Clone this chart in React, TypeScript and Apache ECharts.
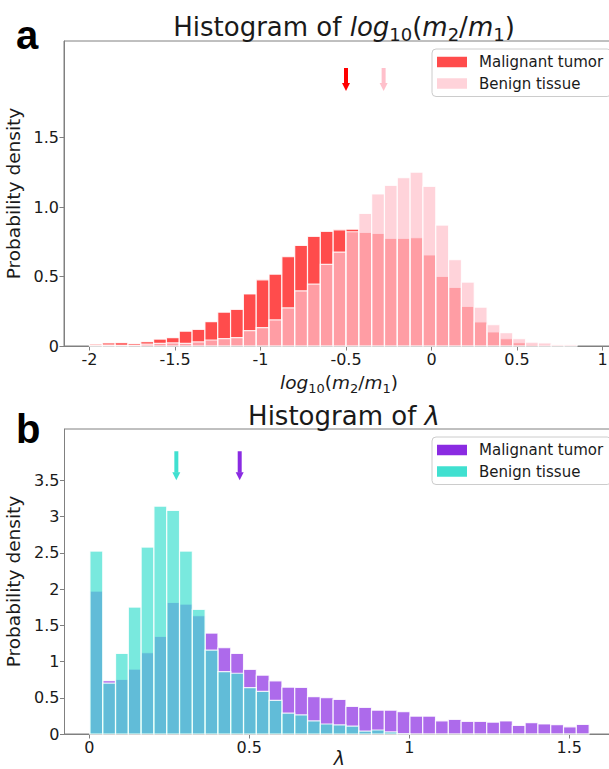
import React, { useEffect, useRef } from "react";
import * as echarts from "echarts";

// ---------- Panel a: log10(m2/m1) ----------
const logBinStart = -2;
const logBinWidth = 0.075;
const logMalignant = [
  0.014, 0.022, 0.024, 0.017, 0.031, 0.05, 0.06, 0.106, 0.12, 0.175,
  0.243, 0.264, 0.375, 0.476, 0.517, 0.642, 0.723, 0.789, 0.825, 0.836,
  0.84, 0.817, 0.81, 0.775, 0.775, 0.78, 0.655, 0.5, 0.421, 0.284,
  0.173, 0.101, 0.052, 0.024, 0.012, 0.008, 0.005, 0.003,
];
const logBenign = [
  0.005, 0.007, 0.005, 0.005, 0.014, 0.019, 0.022, 0.019, 0.029, 0.043,
  0.053, 0.06, 0.11, 0.132, 0.188, 0.274, 0.397, 0.445, 0.587, 0.676,
  0.822, 0.954, 1.094, 1.156, 1.212, 1.25, 1.149, 0.87, 0.622, 0.46,
  0.279, 0.153, 0.096, 0.052, 0.027, 0.022, 0.01, 0.01,
];
const logArrowX = [-0.5, -0.28]; // malignant, benign
const logArrowTail = 2.0;
const logArrowTip = 1.835;
const logTicksX = [-2, -1.5, -1, -0.5, 0, 0.5, 1];
const logTicksY = [0, 0.5, 1.0, 1.5];

// ---------- Panel b: lambda ----------
const lambdaBinStart = 0.002;
const lambdaBinWidth = 0.04;
const lambdaMalignant = [
  1.971, 0.735, 0.754, 0.896, 1.121, 1.347, 1.815, 1.792, 1.631, 1.392,
  1.19, 1.112, 0.892, 0.811, 0.733, 0.645, 0.643, 0.515, 0.503, 0.476,
  0.38, 0.368, 0.328, 0.328, 0.31, 0.246, 0.246, 0.181, 0.202, 0.175,
  0.175, 0.163, 0.181, 0.117, 0.156, 0.138, 0.129, 0.099, 0.131,
];
const lambdaBenign = [
  2.523, 0.703, 1.112, 1.751, 2.578, 3.143, 3.084, 2.523, 1.719, 1.158,
  0.859, 0.838, 0.639, 0.588, 0.465, 0.288, 0.265, 0.182, 0.138, 0.126,
  0.11, 0.041, 0.055, 0.028, 0.004, 0, 0, 0, 0, 0,
  0, 0, 0, 0, 0, 0, 0, 0, 0,
];
const lambdaArrowX = [0.47, 0.272]; // malignant, benign
const lambdaArrowTail = 3.9;
const lambdaArrowTip = 3.5;
const lambdaTicksX = [0, 0.5, 1, 1.5];
const lambdaTicksY = [0, 0.5, 1, 1.5, 2, 2.5, 3, 3.5];

const FONT = "DejaVu Sans";
const AXIS_COLOR = "#808080";
const TEXT_COLOR = "#1a1a1a";

function histSeries(
  name: string,
  idx: number,
  start: number,
  width: number,
  values: number[],
  fill: string,
  z: number
) {
  const data = values.map((v, i) => [start + i * width, start + (i + 1) * width, v]);
  return {
    type: "custom",
    name,
    xAxisIndex: idx,
    yAxisIndex: idx,
    z,
    silent: true,
    itemStyle: { color: fill },
    encode: { x: [0, 1], y: 2 },
    data,
    renderItem: (params: any, api: any) => {
      const p0 = api.coord([api.value(0), api.value(2)]);
      const p1 = api.coord([api.value(1), 0]);
      return {
        type: "rect",
        shape: { x: p0[0], y: p0[1], width: p1[0] - p0[0], height: p1[1] - p0[1] },
        style: { fill, stroke: "rgba(255,255,255,0.85)", lineWidth: 1.2 },
      };
    },
  };
}

function arrowSeries(idx: number, xs: number[], tail: number, tip: number, colors: string[]) {
  return {
    type: "custom",
    xAxisIndex: idx,
    yAxisIndex: idx,
    z: 10,
    silent: true,
    encode: { x: 0, y: [1, 2] },
    data: xs.map((x) => [x, tail, tip]),
    renderItem: (params: any, api: any) => {
      const t = api.coord([api.value(0), api.value(1)]);
      const h = api.coord([api.value(0), api.value(2)]);
      const c = colors[params.dataIndex];
      const headLen = 8;
      const shaftW = 4;
      const headW = 8;
      return {
        type: "group",
        children: [
          {
            type: "rect",
            shape: { x: t[0] - shaftW / 2, y: t[1], width: shaftW, height: h[1] - t[1] - headLen + 0.5 },
            style: { fill: c },
          },
          {
            type: "polygon",
            shape: {
              points: [
                [h[0] - headW / 2, h[1] - headLen],
                [h[0] + headW / 2, h[1] - headLen],
                [h[0], h[1]],
              ],
            },
            style: { fill: c },
          },
        ],
      };
    },
  };
}

function mathRich(size: number) {
  const sub = Math.round(size * 0.7);
  const line = size + 6;
  return {
    n: { fontSize: size, fontFamily: FONT, fontWeight: "normal", color: TEXT_COLOR, lineHeight: line },
    i: { fontSize: size, fontFamily: FONT, fontWeight: "normal", fontStyle: "italic", color: TEXT_COLOR, lineHeight: line },
    s: { fontSize: sub, fontFamily: FONT, fontWeight: "normal", color: TEXT_COLOR, lineHeight: sub, verticalAlign: "bottom" },
  };
}

function xAxisCfg(idx: number, min: number, max: number, ticks: number[], name: string, nameStyle: any, nameGap: number) {
  return {
    type: "value",
    gridIndex: idx,
    min,
    max,
    name,
    nameLocation: "middle",
    nameGap,
    nameMoveOverlap: false,
    nameTextStyle: nameStyle,
    axisLine: { show: true, onZero: false, lineStyle: { color: AXIS_COLOR, width: 1 } },
    axisTick: { show: true, length: 4.5, customValues: ticks, lineStyle: { color: AXIS_COLOR } },
    axisLabel: {
      customValues: ticks,
      formatter: (v: number) => String(v),
      fontSize: 16,
      fontFamily: FONT,
      color: TEXT_COLOR,
      margin: 5,
    },
    splitLine: { show: false },
  };
}

function yAxisCfg(idx: number, max: number, ticks: number[], fmt: (v: number) => string) {
  return {
    type: "value",
    gridIndex: idx,
    min: 0,
    max,
    name: "Probability density",
    nameLocation: "middle",
    nameGap: 31,
    nameTextStyle: { fontSize: 18.5, fontFamily: FONT, color: TEXT_COLOR },
    axisLine: { show: true, onZero: false, lineStyle: { color: AXIS_COLOR, width: 1 } },
    axisTick: { show: true, length: 4.5, customValues: ticks, lineStyle: { color: AXIS_COLOR } },
    axisLabel: {
      customValues: ticks,
      formatter: fmt,
      fontSize: 16,
      fontFamily: FONT,
      color: TEXT_COLOR,
      margin: 5,
    },
    splitLine: { show: false },
  };
}

function legendCfg(top: number, c1: string, c2: string) {
  return {
    orient: "vertical",
    left: 432,
    top,
    padding: [5, 8, 5, 5],
    itemWidth: 30,
    itemHeight: 10.5,
    itemGap: 5.5,
    borderColor: "#cccccc",
    borderWidth: 1,
    borderRadius: 4,
    backgroundColor: "rgba(255,255,255,0.8)",
    selectedMode: false,
    textStyle: { fontSize: 15, fontFamily: FONT, color: TEXT_COLOR, lineHeight: 16, padding: [0, 0, 0, 7] },
    data: [
      { name: "Malignant tumor", icon: "rect", itemStyle: { color: c1 } },
      { name: "Benign tissue", icon: "rect", itemStyle: { color: c2 } },
    ],
  };
}

export default function App() {
  const ref = useRef<HTMLDivElement>(null);
  useEffect(() => {
    if (!ref.current) return;
    const chart = echarts.init(ref.current, null, { renderer: "svg" });

    const topLeft = 64;
    const topRight = 614;
    const logZeroPx = 89.5 + 2 * 171; // pixel of x=0
    const logUnit = 171;
    const logMin = (topLeft - logZeroPx) / logUnit;
    const logMax = (topRight - logZeroPx) / logUnit;

    const lamZeroPx = 89.3;
    const lamUnit = 320;
    const lamMin = (64.5 - lamZeroPx) / lamUnit;
    const lamMax = (topRight - lamZeroPx) / lamUnit;

    const option: any = {
      animation: false,
      backgroundColor: "#ffffff",
      title: [
        {
          text: "a",
          left: 11,
          top: 10,
          textStyle: { fontSize: 40, fontWeight: "bold", fontFamily: "Liberation Sans", color: "#000", lineHeight: 40 },
        },
        {
          text: "b",
          left: 11,
          top: 404,
          textStyle: { fontSize: 40, fontWeight: "bold", fontFamily: "Liberation Sans", color: "#000", lineHeight: 40 },
        },
        {
          text: "{n|Histogram of }{i|log}{s|10}{n|(}{i|m}{s|2}{n|/}{i|m}{s|1}{n|)}",
          left: 339,
          top: 6,
          textAlign: "center",
          textStyle: { fontWeight: "normal", rich: mathRich(26) },
        },
        {
          text: "{n|Histogram of }{i|λ}",
          left: 339,
          top: 395,
          textAlign: "center",
          textStyle: { fontWeight: "normal", rich: mathRich(26) },
        },
      ],
      legend: [
        legendCfg(49, "rgba(255,0,0,0.7)", "rgba(255,192,203,0.7)"),
        legendCfg(437, "#8a2be2", "#40e0d0"),
      ],
      grid: [
        { left: topLeft, top: 41, width: topRight - topLeft, height: 305, show: true, borderColor: AXIS_COLOR, borderWidth: 1, backgroundColor: "transparent", outerBoundsMode: "none", containLabel: false },
        { left: 64.5, top: 429, width: topRight - 64.5, height: 305, show: true, borderColor: AXIS_COLOR, borderWidth: 1, backgroundColor: "transparent", outerBoundsMode: "none", containLabel: false },
      ],
      xAxis: [
        xAxisCfg(0, logMin, logMax, logTicksX, "{i|log}{s|10}{n|(}{i|m}{s|2}{n|/}{i|m}{s|1}{n|)}", { rich: mathRich(18.5) }, 24),
        xAxisCfg(
          1,
          lamMin,
          lamMax,
          lambdaTicksX,
          "λ",
          { fontSize: 19, fontStyle: "italic", fontFamily: FONT, color: TEXT_COLOR, lineHeight: 19 },
          14
        ),
      ],
      yAxis: [
        yAxisCfg(0, 305 / 139, logTicksY, (v: number) => (v === 0 ? "0" : v.toFixed(1))),
        yAxisCfg(1, 305 / 72.5, lambdaTicksY, (v: number) => String(v)),
      ],
      series: [
        histSeries("Malignant tumor", 0, logBinStart, logBinWidth, logMalignant, "rgba(255,0,0,0.7)", 2),
        histSeries("Benign tissue", 0, logBinStart, logBinWidth, logBenign, "rgba(255,192,203,0.7)", 3),
        arrowSeries(0, logArrowX, logArrowTail, logArrowTip, ["#ff0000", "#ffc0cb"]),
        histSeries("Malignant tumor", 1, lambdaBinStart, lambdaBinWidth, lambdaMalignant, "rgba(138,43,226,0.7)", 2),
        histSeries("Benign tissue", 1, lambdaBinStart, lambdaBinWidth, lambdaBenign, "rgba(64,224,208,0.7)", 3),
        arrowSeries(1, lambdaArrowX, lambdaArrowTail, lambdaArrowTip, ["#8a2be2", "#40e0d0"]),
      ],
    };
    chart.setOption(option);
    return () => chart.dispose();
  }, []);

  return (
    <div
      ref={ref}
      style={{ position: "absolute", left: 0, top: 0, width: 609, height: 769, overflow: "hidden", background: "#fff" }}
    />
  );
}
